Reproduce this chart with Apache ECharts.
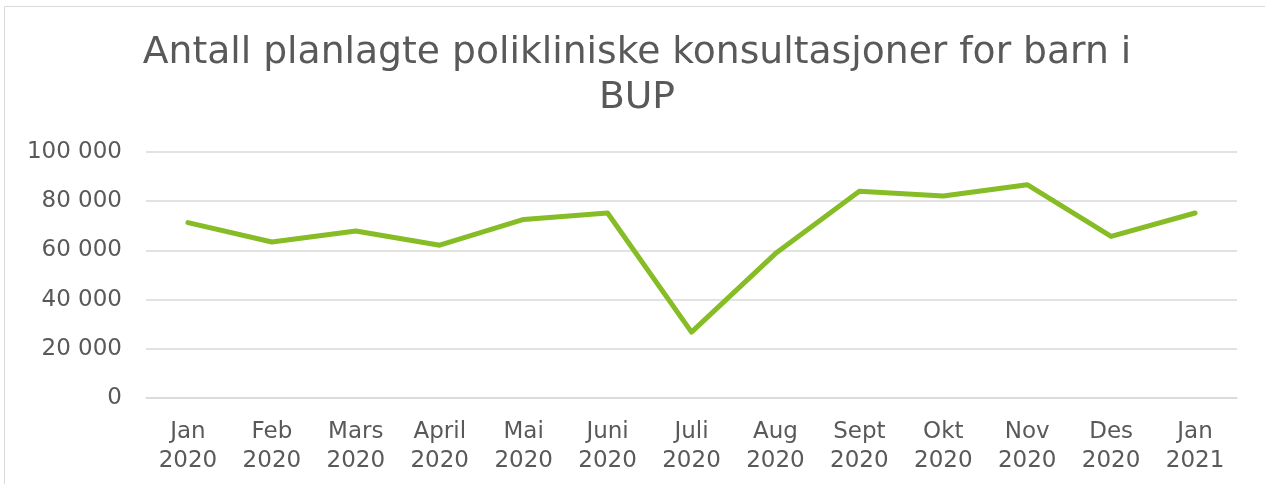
<!DOCTYPE html>
<html>
<head>
<meta charset="utf-8">
<script src="https://cdn.jsdelivr.net/npm/echarts@6/dist/echarts.min.js"></script>
<style>
  html, body { margin: 0; padding: 0; background: #ffffff; }
  #chart { width: 1265px; height: 484px; }
</style>
</head>
<body>
<div id="chart"></div>
<script>
// Monthly planned outpatient consultations for children in BUP
const months = ['Jan\n2020', 'Feb\n2020', 'Mars\n2020', 'April\n2020', 'Mai\n2020', 'Juni\n2020',
  'Juli\n2020', 'Aug\n2020', 'Sept\n2020', 'Okt\n2020', 'Nov\n2020', 'Des\n2020', 'Jan\n2021'];
const consultations = [71300, 63400, 67900, 62100, 72600, 75200, 26800, 58700, 84000, 82100, 86700, 65700, 75200];
const yTicks = { min: 0, max: 100000, interval: 20000 };

const chart = echarts.init(document.getElementById('chart'), null, { renderer: 'canvas' });
const textColor = '#595959';
const font = 'DejaVu Sans, Verdana, sans-serif';

chart.setOption({
  backgroundColor: '#ffffff',
  animation: false,
  graphic: [{
    type: 'rect',
    shape: { x: 4.5, y: 6.5, width: 1300, height: 520 },
    style: { fill: 'none', stroke: '#d9d9d9', lineWidth: 1 },
    silent: true
  }],
  title: {
    text: 'Antall planlagte polikliniske konsultasjoner for barn i\nBUP',
    left: 632,
    top: 26,
    textAlign: 'center',
    textStyle: {
      fontFamily: font,
      fontSize: 37.7,
      fontWeight: 'normal',
      color: textColor,
      lineHeight: 45
    }
  },
  grid: { left: 146, right: 28, top: 152, bottom: 86, containLabel: false },
  xAxis: {
    type: 'category',
    data: months,
    boundaryGap: true,
    axisLine: { show: true, lineStyle: { color: '#d9d9d9', width: 1.5 } },
    axisTick: { show: false },
    axisLabel: {
      color: textColor,
      fontFamily: font,
      fontSize: 23,
      lineHeight: 29,
      margin: 20,
      interval: 0
    }
  },
  yAxis: {
    type: 'value',
    min: yTicks.min,
    max: yTicks.max,
    interval: yTicks.interval,
    axisLine: { show: false },
    axisTick: { show: false },
    splitLine: { lineStyle: { color: '#d9d9d9', width: 1.5 } },
    axisLabel: {
      color: textColor,
      fontFamily: font,
      fontSize: 23,
      margin: 24,
      formatter: v => v === 0 ? '0' : String(v).replace(/\B(?=(\d{3})+(?!\d))/g, ' ')
    }
  },
  series: [{
    type: 'line',
    data: consultations,
    symbol: 'none',
    lineStyle: { color: '#86bc25', width: 5, cap: 'round', join: 'round' },
    itemStyle: { color: '#86bc25' }
  }]
});
</script>
</body>
</html>
